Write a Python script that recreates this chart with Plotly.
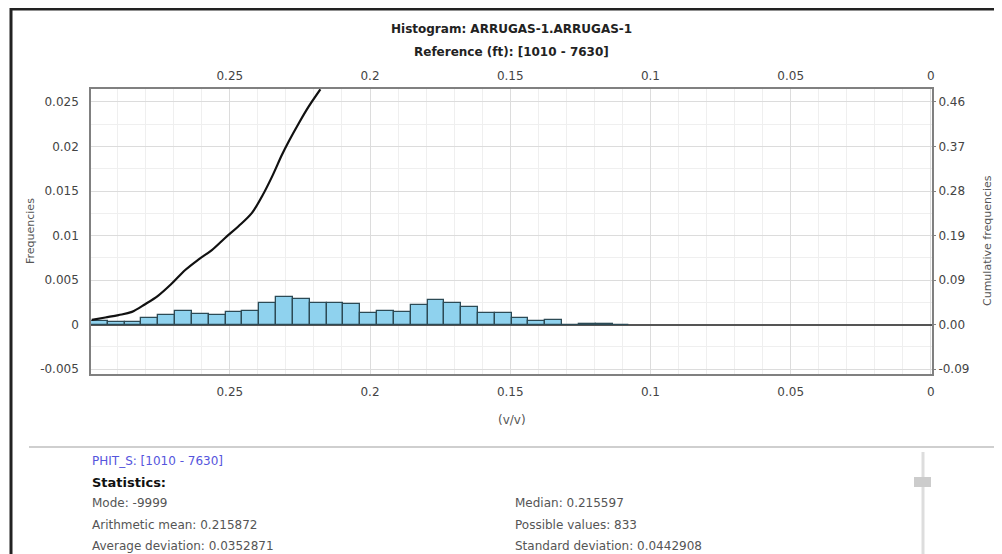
import plotly.graph_objects as go

# histogram bins (bin centres, v/v) and frequencies
BIN_CENTERS = [0.2965, 0.2905, 0.2845, 0.2785, 0.2725, 0.2665, 0.2605, 0.2545,
               0.2485, 0.2425, 0.2365, 0.2305, 0.2245, 0.2185, 0.2125, 0.2065,
               0.2005, 0.1945, 0.1885, 0.1825, 0.1765, 0.1705, 0.1645, 0.1585,
               0.1525, 0.1465, 0.1405, 0.1345, 0.1285, 0.1225, 0.1165, 0.1105]
FREQS = [0.00037, 0.0003, 0.0003, 0.0008, 0.00105, 0.00157, 0.0012, 0.0011,
         0.0014, 0.00153, 0.00246, 0.00306, 0.0029, 0.00239, 0.00239, 0.0023,
         0.00127, 0.00157, 0.0014, 0.00216, 0.00276, 0.00239, 0.00194, 0.00127,
         0.00127, 0.00075, 0.00037, 0.00052, 0.0, 0.0001, 0.0001, 0.0]
BIN_WIDTH = 0.006

# cumulative frequency curve (right axis)
CUM_X = [0.2992, 0.2944, 0.2897, 0.2849, 0.2802, 0.2754, 0.2706, 0.2659, 0.2611,
         0.2564, 0.2516, 0.2469, 0.2421, 0.2385, 0.2349, 0.2314, 0.2290, 0.2254,
         0.2219, 0.2177]
CUM_Y = [0.0099, 0.0149, 0.0197, 0.0265, 0.0424, 0.0610, 0.0859, 0.1134, 0.1355,
         0.1548, 0.1804, 0.2044, 0.2321, 0.2665, 0.3079, 0.3528, 0.3803, 0.4183,
         0.4527, 0.4887]

X_TICKS = [0.25, 0.2, 0.15, 0.1, 0.05, 0]
X_TICK_TEXT = ["0.25", "0.2", "0.15", "0.1", "0.05", "0"]
Y_TICKS = [-0.005, 0, 0.005, 0.01, 0.015, 0.02, 0.025]
Y_TICK_TEXT = ["-0.005", "0", "0.005", "0.01", "0.015", "0.02", "0.025"]
Y2_TICKS = [-0.0925, 0, 0.0925, 0.185, 0.2775, 0.37, 0.4625]
Y2_TICK_TEXT = ["-0.09", "0.00", "0.09", "0.19", "0.28", "0.37", "0.46"]

STATS_LEFT = ["Mode: -9999", "Arithmetic mean: 0.215872", "Average deviation: 0.0352871"]
STATS_RIGHT = ["Median: 0.215597", "Possible values: 833", "Standard deviation: 0.0442908"]

FONT = "DejaVu Sans, Verdana, Arial"
TEXT = "#555555"
TICK = "#444444"

# the page body adds an 8px margin, so the figure is drawn 8px smaller
OFF = 8
W, H = 1002 - OFF, 554 - OFF
# plot area in screen pixels
L, R, T, B = 91, 932, 89, 374


def px(x):
    return (x - L) / (R - L)


def py(y):
    return (B - y) / (B - T)


fig = go.Figure()
fig.add_trace(go.Bar(
    x=BIN_CENTERS, y=FREQS, width=BIN_WIDTH, name="Frequencies",
    marker=dict(color="#8fd2ee", line=dict(color="#2c4a55", width=1.3)),
    xaxis="x", yaxis="y", hoverinfo="x+y",
))
fig.add_trace(go.Scatter(
    x=CUM_X, y=CUM_Y, mode="lines", name="Cumulative",
    line=dict(color="#111111", width=2.2, shape="spline"),
    xaxis="x2", yaxis="y2",
))

x_range = [0.2995, -0.0004]
y_range = [-0.00554, 0.02645]
y2_range = [v * 18.5 for v in y_range]

fig.update_layout(
    width=W, height=H,
    margin=dict(l=L - OFF, r=1002 - R, t=T - OFF, b=554 - B),
    paper_bgcolor="white", plot_bgcolor="white",
    font=dict(family=FONT, size=12, color=TICK),
    showlegend=False, bargap=0,
    xaxis=dict(range=x_range, tickvals=X_TICKS, ticktext=X_TICK_TEXT,
               ticks="outside", ticklen=6, tickcolor="rgba(0,0,0,0)",
               showgrid=True, gridcolor="#dcdcdc", gridwidth=1,
               minor=dict(dtick=0.01, tick0=0, showgrid=True, gridcolor="#efefef"),
               showline=True, linecolor="#808080", linewidth=1.5, mirror=True,
               zeroline=False, tickfont=dict(size=12, color=TICK)),
    xaxis2=dict(range=x_range, overlaying="x", side="top", anchor="y2",
                tickvals=X_TICKS, ticktext=X_TICK_TEXT, showgrid=False,
                showline=False, zeroline=False, ticks="outside", ticklen=3,
                tickcolor="rgba(0,0,0,0)", tickfont=dict(size=12, color=TICK)),
    yaxis=dict(range=y_range, tickvals=Y_TICKS, ticktext=Y_TICK_TEXT,
               ticks="outside", ticklen=8, tickcolor="rgba(0,0,0,0)",
               showgrid=True, gridcolor="#dcdcdc",
               minor=dict(dtick=0.0025, tick0=0, showgrid=True, gridcolor="#efefef"),
               showline=True, linecolor="#808080", linewidth=1.5, mirror=True,
               zeroline=True, zerolinecolor="#555555", zerolinewidth=1.5,
               tickfont=dict(size=12, color=TICK)),
    yaxis2=dict(range=y2_range, overlaying="y", side="right", anchor="x2",
                tickvals=Y2_TICKS, ticktext=Y2_TICK_TEXT, showgrid=False,
                showline=False, zeroline=False, ticks="outside", ticklen=3,
                tickcolor="#808080", tickfont=dict(size=12, color=TICK)),
)

annotations = [
    dict(x=0.5, y=py(29), text="<b>Histogram: ARRUGAS-1.ARRUGAS-1</b>",
         font=dict(size=12, color="#222222")),
    dict(x=0.5, y=py(52), text="<b>Reference (ft): [1010 - 7630]</b>",
         font=dict(size=12, color="#222222")),
    dict(x=0.5, y=py(420), text="(v/v)", font=dict(size=12, color=TEXT)),
    dict(x=px(30), y=py(231), text="Frequencies", textangle=-90,
         font=dict(size=11, color=TEXT)),
    dict(x=px(987), y=py(241), text="Cumulative frequencies", textangle=-90,
         font=dict(size=11, color=TEXT)),
    dict(x=px(90), y=py(461), text="PHIT_S: [1010 - 7630]", xanchor="left",
         font=dict(size=12, color="#5555dd")),
    dict(x=px(90), y=py(482), text="<b>Statistics:</b>", xanchor="left",
         font=dict(size=13, color="#111111")),
]
for i, line in enumerate(STATS_LEFT):
    annotations.append(dict(x=px(90), y=py(503 + 21.5 * i), text=line, xanchor="left",
                            font=dict(size=12, color=TEXT)))
for i, line in enumerate(STATS_RIGHT):
    annotations.append(dict(x=px(513), y=py(503 + 21.5 * i), text=line, xanchor="left",
                            font=dict(size=12, color=TEXT)))
for a in annotations:
    a.setdefault("xanchor", "center")
    a.update(xref="paper", yref="paper", yanchor="middle", showarrow=False)
fig.update_layout(annotations=annotations)

shapes = [
    # outer frame
    dict(type="line", x0=px(11), x1=px(11), y0=py(8), y1=py(600),
         line=dict(color="#222222", width=3)),
    dict(type="line", x0=px(10), x1=px(1003), y0=py(9), y1=py(9),
         line=dict(color="#222222", width=3)),
    # separator above statistics
    dict(type="line", x0=px(29), x1=px(994), y0=py(447), y1=py(447),
         line=dict(color="#cfcfcf", width=2)),
    # scrollbar track and thumb
    dict(type="line", x0=px(923), x1=px(923), y0=py(452), y1=py(600),
         line=dict(color="#dddddd", width=3)),
    dict(type="rect", x0=px(914), x1=px(931), y0=py(477), y1=py(487),
         fillcolor="#cccccc", line=dict(width=0)),
]
for s in shapes:
    s.update(xref="paper", yref="paper", layer="above")
fig.update_layout(shapes=shapes)

fig.write_html("out.html")
